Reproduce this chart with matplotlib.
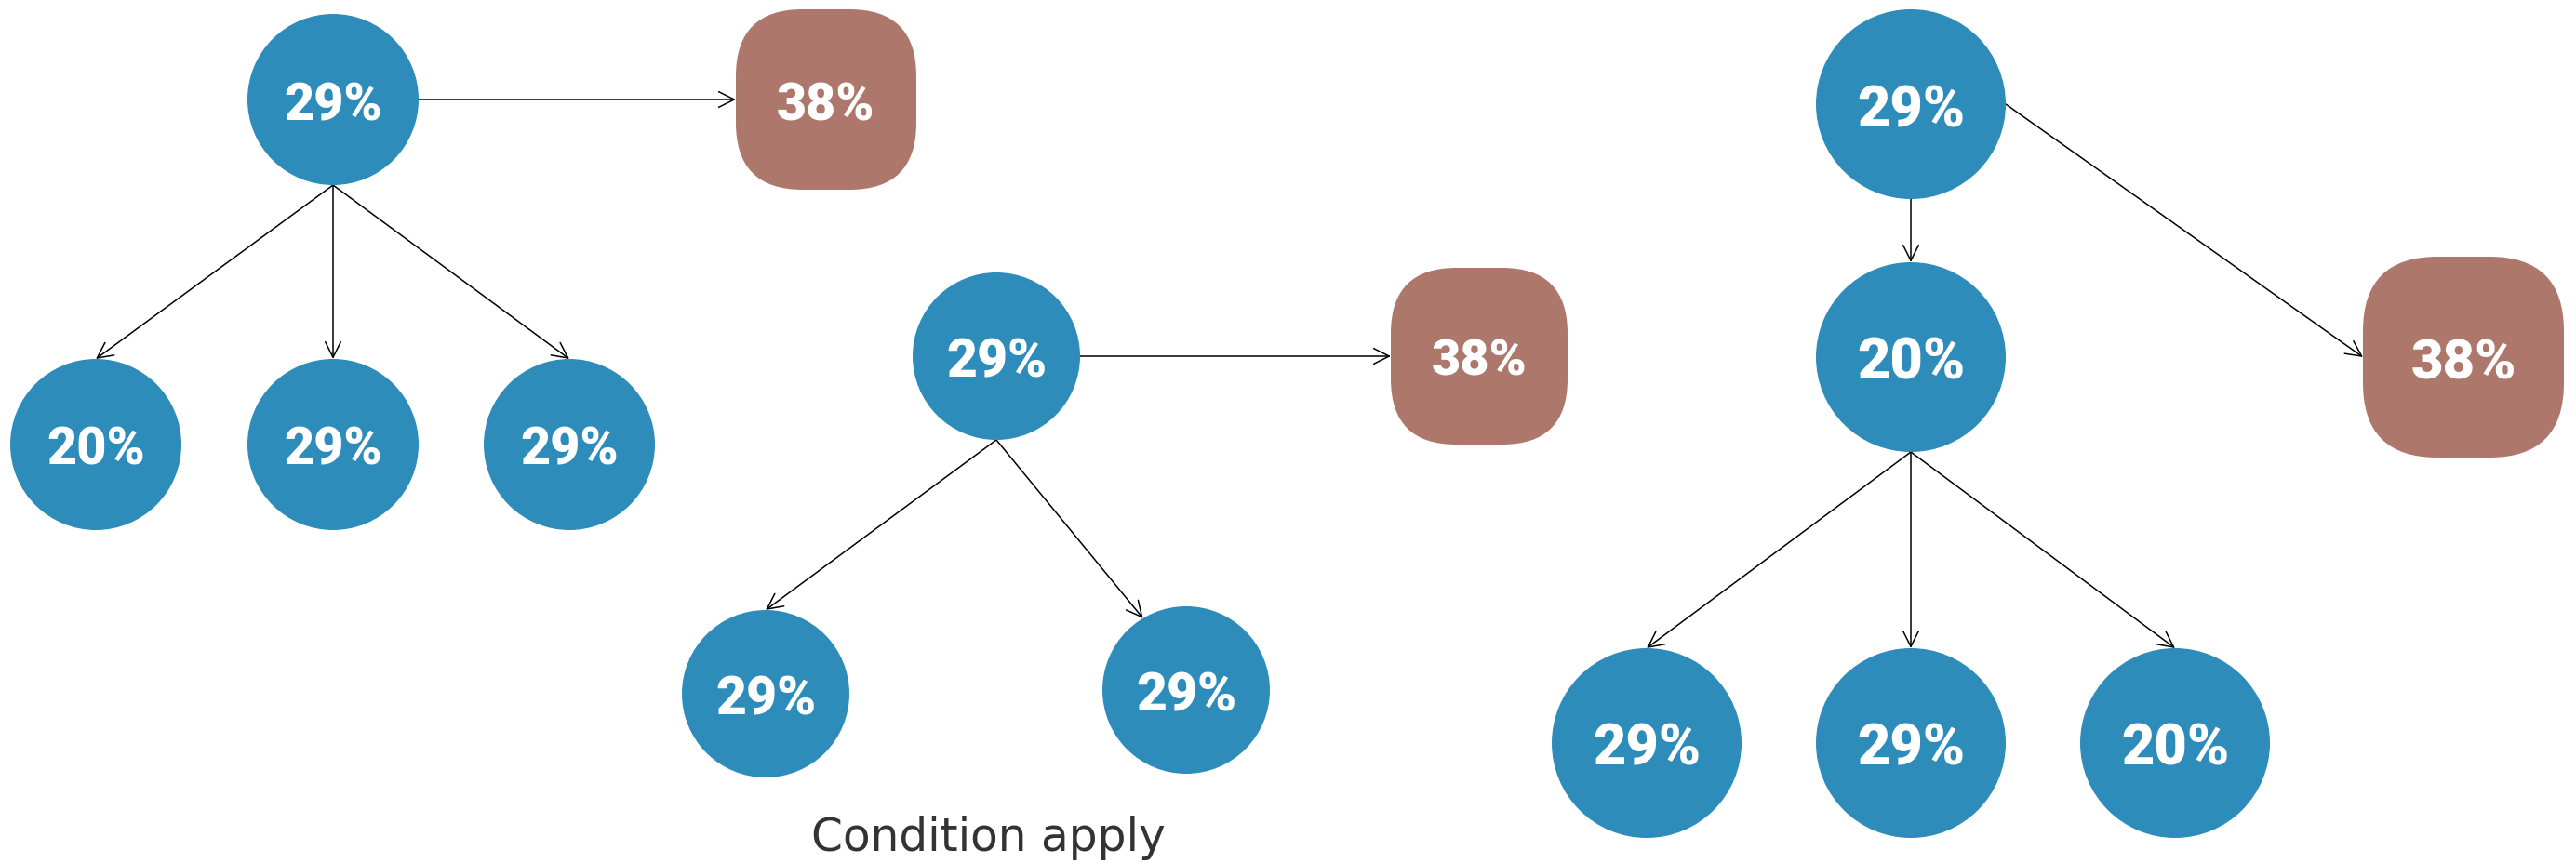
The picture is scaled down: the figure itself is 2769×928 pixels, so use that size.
import numpy as np
import matplotlib
matplotlib.use("Agg")
import matplotlib.pyplot as plt
from matplotlib.patches import Circle, FancyBboxPatch, FancyArrowPatch

# node data (pixel positions on a 2769x929 canvas, y grows downward)
node_labels = ["29%", "38%", "20%", "29%", "29%",
               "29%", "38%", "29%", "29%",
               "29%", "20%", "38%", "29%", "29%", "20%"]
node_kind = ["circle", "box", "circle", "circle", "circle",
             "circle", "box", "circle", "circle",
             "circle", "circle", "box", "circle", "circle", "circle"]
node_x = [358, 888, 103, 358, 612,
          1071, 1590, 823, 1275,
          2054, 2054, 2648, 1770, 2054, 2338]
node_y = [108, 108, 479, 479, 479,
          384, 384, 747, 743,
          113, 385, 385, 800, 800, 800]
node_r = [92, 97, 92, 92, 92,
          90, 95, 90, 90,
          102, 102, 108, 102, 102, 102]
font_sizes = [40, 40, 40, 40, 40,
              41, 39, 41, 41,
              44, 44, 43, 44, 44, 44]

# edges: (from, to, leaving angle, arriving angle) in degrees, 90 = bottom
edges = [(0, 1, 0, 180), (0, 2, 90, -90), (0, 3, 90, -90), (0, 4, 90, -90),
         (5, 6, 0, 180), (5, 7, 90, -90), (5, 8, 90, -121),
         (9, 10, 90, -90), (9, 11, 0, 180),
         (10, 12, 90, -90), (10, 13, 90, -90), (10, 14, 90, -90)]

note_text = "Condition apply"

blue = "#2E8CBA"
brown = "#AD786B"

W, H = 2769, 929
fig = plt.figure(figsize=(W / 100, H / 100), dpi=100)
ax = fig.add_axes([0, 0, 1, 1])
ax.set_xlim(0, W)
ax.set_ylim(H, 0)
ax.set_aspect("equal")
ax.axis("off")


def anchor(i, angle):
    a = np.deg2rad(angle)
    return node_x[i] + node_r[i] * np.cos(a), node_y[i] + node_r[i] * np.sin(a)


# arrows first so the shapes sit on top
for src, dst, a1, a2 in edges:
    p1 = anchor(src, a1)
    p2 = anchor(dst, a2)
    arr = FancyArrowPatch(p1, p2, arrowstyle="->,head_length=0.6,head_width=0.3",
                          mutation_scale=20, lw=1.1, color="black",
                          shrinkA=0, shrinkB=0, zorder=1)
    ax.add_patch(arr)

for i in range(len(node_labels)):
    x, y, r = node_x[i], node_y[i], node_r[i]
    if node_kind[i] == "circle":
        ax.add_patch(Circle((x, y), r, facecolor=blue, edgecolor="none", zorder=2))
    else:
        rad = 0.37 * 2 * r
        ax.add_patch(FancyBboxPatch((x - r + rad, y - r + rad), 2 * r - 2 * rad, 2 * r - 2 * rad,
                                    boxstyle="round,pad=%f,rounding_size=%f" % (rad, rad),
                                    facecolor=brown, edgecolor="none", zorder=2))
    ax.text(x, y, node_labels[i], color="white", fontsize=font_sizes[i],
            fontweight="black", family=["Roboto", "DejaVu Sans"],
            ha="center", va="center_baseline", zorder=3)

# footnote under the middle tree
ax.text(1062, 915, note_text, color="#333333", fontsize=35, fontweight="normal",
        family=["DejaVu Sans"], ha="center", va="baseline")

fig.savefig("out.png", dpi=100, facecolor="white")
